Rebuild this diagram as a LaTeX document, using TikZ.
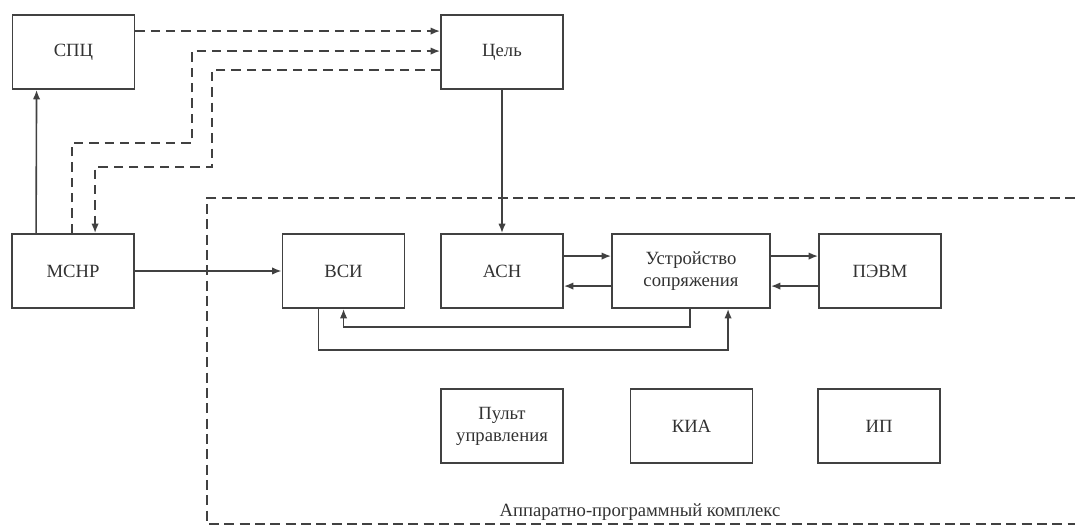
\documentclass[tikz,border=0pt]{standalone}
\usepackage{fontspec}
\setmainfont{Liberation Serif}
\newfontfamily\labelfont{Liberation Serif}
\usetikzlibrary{arrows.meta,calc}
\definecolor{linec}{RGB}{65,65,65}
\definecolor{textc}{RGB}{50,50,50}
\begin{document}
\begin{tikzpicture}[x=0.75pt,y=-0.75pt,
  box/.style={draw=linec, line width=1.4pt, minimum width=91.5pt, minimum height=55.5pt,
    inner sep=2pt, align=center, text=textc, font=\labelfont\fontsize{14}{16.5}\selectfont},
  link/.style={draw=linec, line width=1.2pt, -{Latex[length=7pt,width=5.5pt]}},
  dlink/.style={link, dash pattern=on 7pt off 4.5pt},
  frame/.style={draw=linec, line width=1.3pt, dash pattern=on 7.5pt off 4pt}]
\useasboundingbox (0,0) rectangle (1075,530);

% blocks
\node[box] (spc) at (73.5,52) {СПЦ};
\node[box] (cel) at (502,52) {Цель};
\node[box] (mcnr) at (73,271) {МСНР};
\node[box] (vsi) at (343.5,271) {ВСИ};
\node[box] (asn) at (502,271) {АСН};
\node[box, minimum width=118.5pt] (ust) at (691,271) {Устройство\\сопряжения};
\node[box] (pevm) at (880,271) {ПЭВМ};
\node[box] (pult) at (502,426) {Пульт\\управления};
\node[box] (kia) at (691.5,426) {КИА};
\node[box] (ip) at (879,426) {ИП};

% hardware-software complex boundary
\draw[frame] (1075,198) -- (207,198) -- (207,524) -- (1075,524);
\node[text=textc, font=\labelfont\fontsize{14}{16}\selectfont] (apk) at (640,512) {Аппаратно-программный комплекс};

% connections
\draw[link] ($(mcnr.north west)+(25,0)$) -- ($(spc.south west)+(25,0)$);
\draw[dlink] ($(spc.north east)+(0,17)$) -- ($(cel.north west)+(0,17)$);
\draw[dlink] ($(mcnr.north west)+(61,0)$) |- (192,143) |- ($(cel.north west)+(0,37)$);
\draw[dlink] ($(cel.north west)+(0,56)$) -| (212,167) -| ($(mcnr.north west)+(84,0)$);
\draw[link] (cel.south) -- (asn.north);
\draw[link] (mcnr.east) -- (vsi.west);
\draw[link] ($(asn.north east)+(0,23)$) -- ($(ust.north west)+(0,23)$);
\draw[link] ($(ust.north west)+(0,53)$) -- ($(asn.north east)+(0,53)$);
\draw[link] ($(ust.north east)+(0,23)$) -- ($(pevm.north west)+(0,23)$);
\draw[link] ($(pevm.north west)+(0,53)$) -- ($(ust.north east)+(0,53)$);
\draw[link] ($(ust.south west)+(79,0)$) -- ++(0,18) -| ($(vsi.south west)+(62,0)$);
\draw[link] ($(vsi.south west)+(37,0)$) -- ++(0,41) -| ($(ust.south west)+(117,0)$);
\end{tikzpicture}
\end{document}
